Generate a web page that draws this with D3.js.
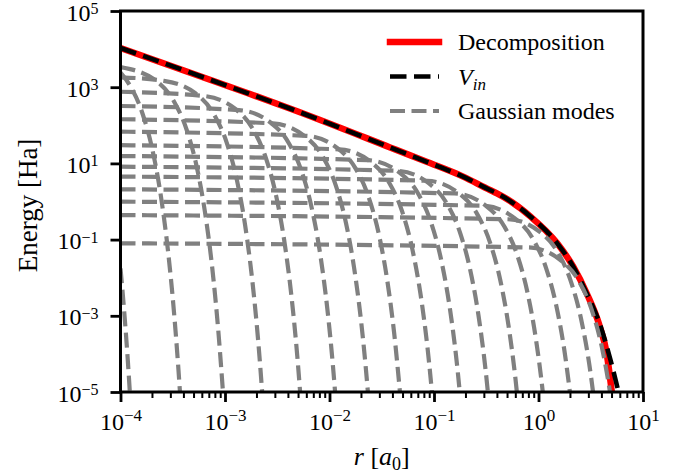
<!DOCTYPE html>
<html>
<head>
<meta charset="utf-8">
<script src="https://cdn.jsdelivr.net/npm/d3@7"></script>
<style>
  body { margin: 0; background: #fff; }
  svg text { font-family: "Liberation Serif", "Times New Roman", serif; fill: #000; }
</style>
</head>
<body>
<svg id="chart" width="680" height="476"></svg>
<script>
// tick exponents (labels are 10^exp)
const xTickExps = [-4, -3, -2, -1, 0, 1];
const yTickExps = [-5, -3, -1, 1, 3, 5];

// red solid curve: sum of the modes as [r, E]
const decomposition = [
  [1e-4, 10700], [1.66e-3, 692], [4.3e-3, 268], [0.038, 26.3], [0.085, 11],
  [0.19, 4.5], [0.343, 2.0], [0.40, 1.64], [0.84, 0.40], [1.51, 0.080],
  [2.15, 0.0195], [2.89, 0.0039], [3.87, 5.1e-4], [4.49, 1.05e-4],
  [5.01, 1.1e-5], [5.2, 5e-6]
];

// black dashed curve V_in, [r, E]
const vIn = [
  [1e-4, 10700], [1.66e-3, 692], [4.3e-3, 268], [0.038, 26.3], [0.085, 11],
  [0.19, 4.5], [0.343, 2.0], [0.40, 1.64], [0.84, 0.40], [1.51, 0.080],
  [2.15, 0.0195], [2.89, 0.0039], [3.87, 6e-4], [4.89, 6.9e-5],
  [5.66, 1.4e-5], [6.1, 6e-6]
];

// grey dashed Gaussian modes, each a list of [r, E]
const gaussianModes = [
  [[1e-4, 0.080], [0.805, 0.0622], [1.61, 0.0294], [2.415, 0.00843], [3.22, 0.00147], [4.03, 1.55e-4], [4.83, 9.9e-6], [5.64, 3.8e-7]],
  [[1e-4, 0.44], [0.511, 0.342], [1.021, 0.162], [1.531, 0.0463], [2.04, 0.00805], [2.55, 8.5e-4], [3.06, 5.4e-5], [3.57, 2.1e-6]],
  [[1e-4, 0.99], [0.295, 0.771], [0.590, 0.365], [0.885, 0.1045], [1.18, 0.0182], [1.476, 0.00191], [1.77, 1.22e-4], [2.065, 4.7e-6]],
  [[1e-4, 2.09], [0.157, 1.626], [0.314, 0.769], [0.471, 0.220], [0.628, 0.0383], [0.785, 0.00404], [0.942, 2.58e-4], [1.099, 1.0e-5], [1.256, 2.3e-7]],
  [[1e-4, 4.5], [0.0861, 3.50], [0.1722, 1.656], [0.2582, 0.474], [0.3443, 0.0824], [0.4305, 0.00869], [0.5164, 5.55e-4], [0.6026, 2.15e-5], [0.6887, 5.0e-7]],
  [[1e-4, 8.2], [0.0445, 6.38], [0.0889, 3.02], [0.1334, 0.865], [0.1778, 0.150], [0.2223, 0.01585], [0.2667, 0.00101], [0.3112, 3.93e-5], [0.3556, 9.2e-7]],
  [[1e-4, 15.6], [0.0234, 12.13], [0.0468, 5.74], [0.0702, 1.644], [0.0935, 0.286], [0.1169, 0.0301], [0.1403, 0.00192], [0.1637, 7.5e-5], [0.1871, 1.75e-6]],
  [[1e-4, 30], [0.01239, 23.3], [0.02477, 11.04], [0.03715, 3.16], [0.04955, 0.55], [0.0619, 0.0579], [0.0743, 0.0037], [0.0867, 1.44e-4], [0.0991, 3.4e-6]],
  [[1e-4, 68], [0.00596, 53], [0.01191, 25.1], [0.01786, 7.18], [0.02382, 1.247], [0.02979, 0.1315], [0.03573, 0.00839], [0.04169, 3.26e-4], [0.04764, 7.6e-6]],
  [[1e-4, 144], [0.00287, 112], [0.00574, 53], [0.00861, 15.2], [0.01148, 2.64], [0.01436, 0.278], [0.01722, 0.0177], [0.0201, 6.9e-4], [0.02296, 1.61e-5], [0.02582, 2.3e-7]],
  [[1e-4, 321], [0.001361, 250], [0.002723, 118.3], [0.004083, 33.9], [0.005445, 5.89], [0.006808, 0.621], [0.00817, 0.0396], [0.00953, 0.00154], [0.01089, 3.6e-5], [0.01225, 5.2e-7]],
  [[1e-4, 760], [6.15e-4, 593], [0.00123, 280], [0.001845, 80.4], [0.00246, 13.96], [0.003076, 1.47], [0.00369, 0.094], [0.004305, 0.00365], [0.00492, 8.6e-5], [0.005534, 1.24e-6]],
  [[1e-4, 1820], [2.6e-4, 1469], [5.2e-4, 695], [7.8e-4, 199], [0.00104, 34.6], [0.0013, 3.65], [0.00156, 0.233], [0.00182, 0.00904], [0.00208, 2.12e-4], [0.002339, 3.1e-6]],
  [[1e-4, 3357], [2.148e-4, 1535], [3.221e-4, 440], [4.295e-4, 76.4], [5.37e-4, 8.05], [6.44e-4, 0.514], [7.52e-4, 0.02], [8.59e-4, 4.68e-4], [9.66e-4, 6.8e-6]],
  [[1e-4, 2415], [1.219e-4, 1156], [1.626e-4, 201], [2.032e-4, 21.2], [2.438e-4, 1.35], [2.844e-4, 0.0525], [3.251e-4, 0.00123], [3.656e-4, 1.78e-5], [4.064e-4, 1.5e-7]],
  [[1e-4, 0.0174], [1.05e-4, 0.00389], [1.18e-4, 5.6e-5], [1.312e-4, 4.8e-7]]
];

const legendItems = ['Decomposition', 'V_in', 'Gaussian modes'];

const svg = d3.select('#chart');
const margin = { top: 11, right: 37, bottom: 84, left: 120.5 };
const width = +svg.attr('width') - margin.left - margin.right;
const height = +svg.attr('height') - margin.top - margin.bottom;

const g = svg.append('g').attr('transform', `translate(${margin.left},${margin.top})`);

const x = d3.scaleLog().domain([1e-4, 1e1]).range([0, width]);
const y = d3.scaleLog().domain([1e-5, 1e5]).range([height, 0]);

g.append('clipPath').attr('id', 'plot-clip')
  .append('rect').attr('width', width).attr('height', height);

const line = d3.line()
  .x(d => x(d[0]))
  .y(d => y(d[1]))
  .curve(d3.curveMonotoneX);

const styles = {
  red:  { stroke: '#ff0000', width: 6.5, dash: null },
  vin:  { stroke: '#000000', width: 4.6, dash: '16.5,7.5' },
  mode: { stroke: '#808080', width: 4.2, dash: '15,6.5' }
};

const curves = g.append('g').attr('clip-path', 'url(#plot-clip)');

curves.append('path')
  .datum(decomposition)
  .attr('d', line)
  .attr('fill', 'none')
  .attr('stroke', styles.red.stroke)
  .attr('stroke-width', styles.red.width);

curves.append('path')
  .datum(vIn)
  .attr('d', line)
  .attr('fill', 'none')
  .attr('stroke', styles.vin.stroke)
  .attr('stroke-width', styles.vin.width)
  .attr('stroke-dasharray', styles.vin.dash);

curves.selectAll('.mode')
  .data(gaussianModes)
  .join('path')
  .attr('class', 'mode')
  .attr('d', line)
  .attr('fill', 'none')
  .attr('stroke', styles.mode.stroke)
  .attr('stroke-width', styles.mode.width)
  .attr('stroke-dasharray', styles.mode.dash);

// axes
function powLabel(text, exp, supSize, supShift) {
  text.text(null);
  text.append('tspan').text('10');
  text.append('tspan')
    .attr('dy', -supShift)
    .attr('font-size', supSize)
    .text(exp < 0 ? '\u2212' + (-exp) : String(exp));
}

const xMinor = x.ticks().filter(v => Math.abs(Math.log10(v) - Math.round(Math.log10(v))) > 1e-6);

g.append('g')
  .attr('transform', `translate(0,${height})`)
  .call(d3.axisBottom(x).tickValues(xMinor).tickSize(6).tickFormat(''))
  .call(a => a.select('.domain').remove())
  .call(a => a.selectAll('.tick line').attr('stroke-width', 2));

const xAxis = g.append('g')
  .attr('transform', `translate(0,${height})`)
  .call(d3.axisBottom(x).tickValues(xTickExps.map(e => Math.pow(10, e))).tickSize(10));
xAxis.select('.domain').remove();
xAxis.selectAll('.tick line').attr('stroke-width', 2.8);
xAxis.selectAll('.tick text')
  .attr('y', 38).attr('dy', null)
  .attr('font-size', 24)
  .each(function (d, i) { powLabel(d3.select(this), xTickExps[i], 17, 9); });

const yAxis = g.append('g')
  .call(d3.axisLeft(y).tickValues(yTickExps.map(e => Math.pow(10, e))).tickSize(10));
yAxis.select('.domain').remove();
yAxis.selectAll('.tick line').attr('stroke-width', 2.8);
yAxis.selectAll('.tick text')
  .attr('x', -22).attr('dy', 9)
  .attr('font-size', 24)
  .attr('text-anchor', 'end')
  .each(function (d, i) { powLabel(d3.select(this), yTickExps[i], 16, 6.5); });

// frame
g.append('rect')
  .attr('width', width).attr('height', height)
  .attr('fill', 'none').attr('stroke', '#000').attr('stroke-width', 3);

// axis labels
const xLabel = g.append('text')
  .attr('x', width / 2).attr('y', height + 73)
  .attr('text-anchor', 'middle')
  .attr('font-size', 26);
xLabel.append('tspan').attr('font-style', 'italic').text('r');
xLabel.append('tspan').text(' [');
xLabel.append('tspan').attr('font-style', 'italic').text('a');
xLabel.append('tspan').attr('font-size', 18).attr('dy', 5).text('0');
xLabel.append('tspan').attr('dy', -5).text(']');

g.append('text')
  .attr('transform', `translate(${28 - margin.left},${height / 2 + 4}) rotate(-90)`)
  .attr('text-anchor', 'middle')
  .attr('dy', 9)
  .attr('font-size', 27)
  .text('Energy [Ha]');

// legend
const legend = svg.append('g').attr('transform', 'translate(390,42)');
const legendStyles = [styles.red, styles.vin, styles.mode];
legendItems.forEach((label, i) => {
  const row = legend.append('g').attr('transform', `translate(0,${i * 34.5})`);
  row.append('line')
    .attr('x1', 0).attr('x2', 49)
    .attr('stroke', legendStyles[i].stroke)
    .attr('stroke-width', legendStyles[i].width)
    .attr('stroke-linecap', i === 0 ? 'square' : 'butt')
    .attr('stroke-dasharray', legendStyles[i].dash);
  const t = row.append('text').attr('x', 68).attr('y', 8).attr('font-size', 24);
  if (label === 'V_in') {
    t.append('tspan').attr('font-style', 'italic').text('V');
    t.append('tspan').attr('font-style', 'italic').attr('font-size', 17).attr('dy', 5).text('in');
  } else {
    t.text(label);
  }
});
</script>
</body>
</html>
